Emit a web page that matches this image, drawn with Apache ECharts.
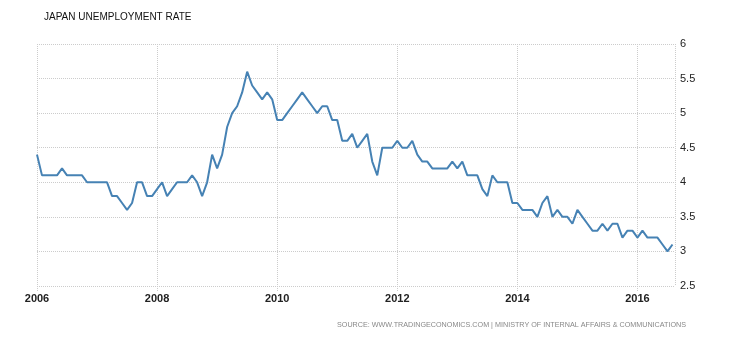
<!DOCTYPE html>
<html>
<head>
<meta charset="utf-8">
<script src="https://cdn.jsdelivr.net/npm/echarts@6/dist/echarts.min.js"></script>
<style>html,body{margin:0;padding:0;background:#fff}#c{width:730px;height:340px}</style>
</head>
<body>
<div id="c"></div>
<script>
// Monthly unemployment rate, Jan 2006 .. Aug 2016
const startYear = 2006;
const rate2006 = [4.4,4.1,4.1,4.1,4.1,4.2,4.1,4.1,4.1,4.1,4.0,4.0];
const rate2007 = [4.0,4.0,4.0,3.8,3.8,3.7,3.6,3.7,4.0,4.0,3.8,3.8];
const rate2008 = [3.9,4.0,3.8,3.9,4.0,4.0,4.0,4.1,4.0,3.8,4.0,4.4];
const rate2009 = [4.2,4.4,4.8,5.0,5.1,5.3,5.6,5.4,5.3,5.2,5.3,5.2];
const rate2010 = [4.9,4.9,5.0,5.1,5.2,5.3,5.2,5.1,5.0,5.1,5.1,4.9];
const rate2011 = [4.9,4.6,4.6,4.7,4.5,4.6,4.7,4.3,4.1,4.5,4.5,4.5];
const rate2012 = [4.6,4.5,4.5,4.6,4.4,4.3,4.3,4.2,4.2,4.2,4.2,4.3];
const rate2013 = [4.2,4.3,4.1,4.1,4.1,3.9,3.8,4.1,4.0,4.0,4.0,3.7];
const rate2014 = [3.7,3.6,3.6,3.6,3.5,3.7,3.8,3.5,3.6,3.5,3.5,3.4];
const rate2015 = [3.6,3.5,3.4,3.3,3.3,3.4,3.3,3.4,3.4,3.2,3.3,3.3];
const rate2016 = [3.2,3.3,3.2,3.2,3.2,3.1,3.0,3.1];
const yTicks = [2.5,3,3.5,4,4.5,5,5.5,6];
const xTickYears = [2006,2008,2010,2012,2014,2016];
const titleText = 'JAPAN UNEMPLOYMENT RATE';
const sourceText = 'SOURCE: WWW.TRADINGECONOMICS.COM | MINISTRY OF INTERNAL AFFAIRS & COMMUNICATIONS';

const rates = [].concat(rate2006,rate2007,rate2008,rate2009,rate2010,rate2011,rate2012,rate2013,rate2014,rate2015,rate2016);
const seriesData = rates.map((v,i)=>[i,v]);

const chart = echarts.init(document.getElementById('c'), null, {renderer:'canvas'});
chart.setOption({
  animation:false,
  backgroundColor:'#fff',
  title:{text:titleText,left:44,top:12,padding:0,textStyle:{fontFamily:'Liberation Sans',fontSize:10,fontWeight:'normal',color:'#111'}},
  grid:{left:37,right:55,top:44,bottom:54,containLabel:false},
  xAxis:{
    type:'value',min:0,max:127.5,interval:24,
    axisLine:{show:false},
    axisTick:{show:true,length:5,lineStyle:{color:'#ccc',type:'dotted'}},
    splitLine:{show:true,lineStyle:{color:'#ccc',type:'dotted',width:1}},
    axisLabel:{showMaxLabel:false,margin:7,color:'#222',fontFamily:'Liberation Sans',fontSize:11,fontWeight:'bold',
      formatter:v=>{const y=startYear+Math.round(v/12);return xTickYears.includes(y)?String(y):'';}}
  },
  yAxis:{
    type:'value',position:'right',min:yTicks[0],max:yTicks[yTicks.length-1],interval:0.5,
    axisLine:{show:false},axisTick:{show:false},
    splitLine:{show:true,lineStyle:{color:'#ccc',type:'dotted',width:1}},
    axisLabel:{margin:5,color:'#222',fontFamily:'Liberation Sans',fontSize:11}
  },
  graphic:[{type:'text',right:44,top:322,style:{text:sourceText,fontFamily:'Liberation Sans',fontSize:7.2,fill:'#888'}}],
  series:[{type:'line',data:seriesData,symbol:'none',lineStyle:{color:'#4682b4',width:2},itemStyle:{color:'#4682b4'}}]
});
</script>
</body>
</html>
